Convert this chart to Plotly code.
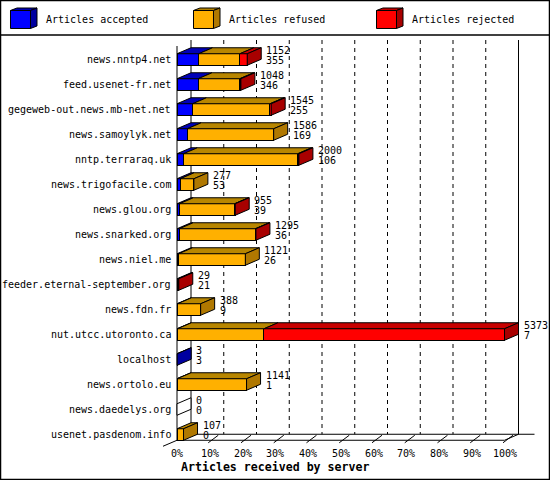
import plotly.graph_objects as go

# data (articles per server)
servers = [
    "news.nntp4.net", "feed.usenet-fr.net", "gegeweb-out.news.mb-net.net",
    "news.samoylyk.net", "nntp.terraraq.uk", "news.trigofacile.com",
    "news.glou.org", "news.snarked.org", "news.niel.me",
    "feeder.eternal-september.org", "news.fdn.fr", "nut.utcc.utoronto.ca",
    "localhost", "news.ortolo.eu", "news.daedelys.org", "usenet.pasdenom.info",
]
accepted = [355, 346, 255, 169, 106, 53, 39, 36, 26, 21, 9, 7, 3, 1, 0, 0]
refused = [676, 682, 1270, 1417, 1874, 224, 906, 1249, 1095, 0, 379, 1420, 0, 1140, 0, 107]
rejected = [121, 20, 20, 0, 20, 0, 10, 10, 0, 8, 0, 3946, 0, 0, 0, 0]

tick_values = [0, 10, 20, 30, 40, 50, 60, 70, 80, 90, 100]
tick_labels = ["0%", "10%", "20%", "30%", "40%", "50%", "60%", "70%", "80%", "90%", "100%"]
series_names = ["Articles accepted", "Articles refused", "Articles rejected"]

front_colors = ["#0000ff", "#ffb000", "#ff0000"]
top_colors = ["#0000b8", "#b88600", "#c80000"]
side_colors = ["#0000a0", "#b07800", "#a80000"]

FONT = "DejaVu Sans Mono"
W, H = 550, 480

# pixel geometry of the picture
X0_PX = 177.0      # where 0% sits
PCT_PX = 3.275     # pixels per percent
ROW0_PX = 59.5     # centre of the first row
ROW_PX = 25.0      # row pitch


def px_x(px):
    return (px - X0_PX) / PCT_PX


def px_y(py):
    return (py - ROW0_PX) / ROW_PX


DX = 14 / PCT_PX          # depth of the 3d effect
DY = 6 / ROW_PX
HALF = 5.75 / ROW_PX      # half height of a bar front

rows = list(range(len(servers)))
segments = [accepted, refused, rejected]
totals = [a + b + c for a, b, c in zip(accepted, refused, rejected)]
scale = 100.0 / max(totals)

fig = go.Figure()

# front faces
for k in range(3):
    fig.add_trace(go.Bar(
        y=rows, x=[v * scale for v in segments[k]], orientation="h",
        width=2 * HALF, name=series_names[k],
        marker=dict(color=front_colors[k], line=dict(color="black", width=1)),
        hoverinfo="skip",
    ))

# top faces
starts = [0.0] * len(rows)
for k in range(3):
    xs, ys = [], []
    for i in rows:
        w = segments[k][i] * scale
        if w > 0:
            x0, x1 = starts[i], starts[i] + w
            t = i - HALF
            xs += [x0, x1, x1 + DX, x0 + DX, x0, None]
            ys += [t, t, t - DY, t - DY, t, None]
            starts[i] = x1
    fig.add_trace(go.Scatter(
        x=xs, y=ys, mode="lines", fill="toself", fillcolor=top_colors[k],
        line=dict(color="black", width=1), hoverinfo="skip",
    ))

# side faces, coloured by the last non-empty segment
side_groups = {}
for i in rows:
    col = "white"
    for k in range(3):
        if segments[k][i] > 0:
            col = side_colors[k]
    x1 = totals[i] * scale
    t, b = i - HALF, i + HALF
    xs, ys = side_groups.setdefault(col, ([], []))
    xs += [x1, x1, x1 + DX, x1 + DX, x1, None]
    ys += [t, b, b - DY, t - DY, t, None]
for col, (xs, ys) in side_groups.items():
    fig.add_trace(go.Scatter(
        x=xs, y=ys, mode="lines", fill="toself", fillcolor=col,
        line=dict(color="black", width=1), hoverinfo="skip",
    ))

# walls, floor and grid
top_y = px_y(40)
front_floor = rows[-1] + HALF
back_floor = front_floor - DY
blk = dict(color="black", width=1)
shapes = []


def seg(x0, y0, x1, y1, line=blk):
    shapes.append(dict(type="line", xref="x", yref="y", x0=x0, y0=y0,
                       x1=x1, y1=y1, line=line, layer="below"))


seg(0, top_y + DY, 0, front_floor)
seg(DX, top_y, DX, back_floor)
seg(100 + DX, top_y, 100 + DX, back_floor)
for v in tick_values[1:-1]:
    seg(v + DX, top_y, v + DX, back_floor, dict(color="black", width=1, dash="4px,4px"))
seg(DX, back_floor, 100 + DX + 16 / PCT_PX, back_floor)
seg(0, front_floor, 100, front_floor)
seg(DX, back_floor, -DX, front_floor + DY)
seg(100, front_floor, 100 + DX, back_floor)
for v in tick_values[1:]:
    seg(v - 1.5 / PCT_PX, front_floor + 2.5 / ROW_PX,
        v + 8.5 / PCT_PX, back_floor + 1 / ROW_PX)

# frame and legend separator (paper coords)
shapes.append(dict(type="rect", xref="paper", yref="paper",
                   x0=0.5 / W, y0=0.5 / H, x1=1 - 0.5 / W, y1=1 - 0.5 / H,
                   line=dict(color="black", width=1.5)))
shapes.append(dict(type="line", xref="paper", yref="paper",
                   x0=0, x1=1, y0=1 - 35 / H, y1=1 - 35 / H,
                   line=dict(color="black", width=1.5)))

annotations = []

# legend cubes
for k in range(3):
    lx = 10.5 + 183 * k
    fx0, fx1, fy0, fy1 = lx, lx + 20, 10.5, 28.5
    cdx, cdy = 6.5, 2.5

    def P(pts):
        return "M " + " L ".join(f"{x / W:.5f},{1 - y / H:.5f}" for x, y in pts) + " Z"

    shapes.append(dict(type="path", xref="paper", yref="paper",
                       path=P([(fx0, fy0), (fx1, fy0), (fx1 + cdx, fy0 - cdy), (fx0 + cdx, fy0 - cdy)]),
                       fillcolor=top_colors[k], line=blk))
    shapes.append(dict(type="path", xref="paper", yref="paper",
                       path=P([(fx1, fy0), (fx1, fy1), (fx1 + cdx, fy1 - cdy), (fx1 + cdx, fy0 - cdy)]),
                       fillcolor=side_colors[k], line=blk))
    shapes.append(dict(type="path", xref="paper", yref="paper",
                       path=P([(fx0, fy0), (fx1, fy0), (fx1, fy1), (fx0, fy1)]),
                       fillcolor=front_colors[k], line=blk))
    annotations.append(dict(xref="paper", yref="paper", x=(lx + 34) / W, y=1 - 20 / H,
                            text=series_names[k], showarrow=False, xanchor="left",
                            yanchor="middle", borderpad=0,
                            font=dict(family=FONT, size=10, color="black")))

# server names
for i in rows:
    annotations.append(dict(x=px_x(X0_PX - 5), y=i, text=servers[i], showarrow=False,
                            xanchor="right", yanchor="middle", borderpad=0,
                            font=dict(family=FONT, size=10, color="black")))

# value labels: total above, accepted below
for i in rows:
    lx = totals[i] * scale + DX + 4 / PCT_PX
    annotations.append(dict(x=lx, y=i - 0.38, text=str(totals[i]), showarrow=False,
                            xanchor="left", yanchor="middle", borderpad=0,
                            font=dict(family=FONT, size=10, color="black")))
    annotations.append(dict(x=lx, y=i + 0.02, text=str(accepted[i]), showarrow=False,
                            xanchor="left", yanchor="middle", borderpad=0,
                            font=dict(family=FONT, size=10, color="black")))

# percent ticks
for v, lab in zip(tick_values, tick_labels):
    annotations.append(dict(x=v, y=px_y(453), text=lab, showarrow=False,
                            xanchor="center", yanchor="middle", borderpad=0,
                            font=dict(family=FONT, size=10, color="black")))

annotations.append(dict(xref="paper", yref="paper", x=0.5, y=1 - 466.5 / H,
                        text="<b>Articles received by server</b>", showarrow=False,
                        xanchor="center", yanchor="middle", borderpad=0,
                        font=dict(family=FONT, size=11.6, color="black")))

fig.update_layout(
    width=W, height=H,
    margin=dict(l=0, r=0, t=0, b=0),
    paper_bgcolor="white", plot_bgcolor="white",
    barmode="stack", showlegend=False,
    xaxis=dict(range=[px_x(0), px_x(W)], visible=False, fixedrange=True),
    yaxis=dict(range=[px_y(H), px_y(0)], visible=False, fixedrange=True),
    shapes=shapes, annotations=annotations,
)

# the page body has a default margin; drop it so the figure fills the window
fig.write_html("out.html", config={"displayModeBar": False},
               post_script="document.body.style.margin='0';")
